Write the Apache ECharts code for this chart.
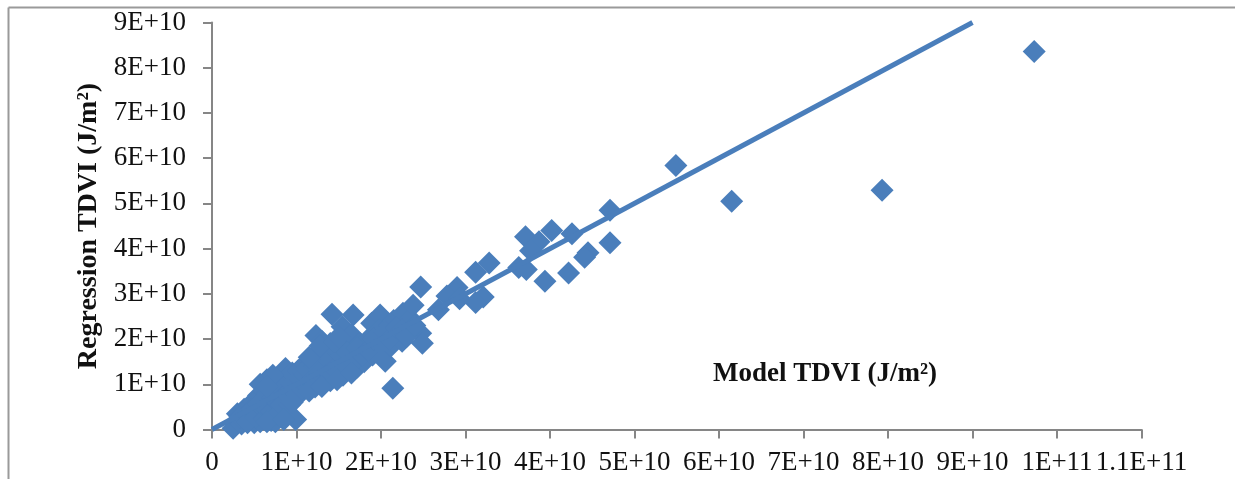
<!DOCTYPE html>
<html>
<head>
<meta charset="utf-8">
<style>
  html, body { margin: 0; padding: 0; background: #fff; }
  #main { width: 1235px; height: 479px; }
</style>
<script src="https://cdn.jsdelivr.net/npm/echarts@6/dist/echarts.min.js"></script>
</head>
<body>
<div id="main"></div>
<script>
// values, in units of 1E+10 J/m2
const modelTDVI = [
  9.73, 7.93, 6.15, 5.49, 4.71, 4.71, 4.02, 4.26, 3.71, 3.87, 3.77, 4.45, 4.41, 3.63, 3.72, 4.22, 3.94,
  3.28, 3.12, 2.90, 2.88, 2.78, 2.93, 3.21, 3.12, 2.68, 2.47,
  0.25, 0.30, 0.30, 0.35, 0.35, 0.38, 0.40, 0.42, 0.45, 0.50, 0.50, 0.50, 0.55, 0.57, 0.57, 0.57, 0.60,
  0.62, 0.65, 0.68, 0.70, 0.72, 0.75, 0.75, 0.78, 0.80, 0.82, 0.85, 0.87, 0.88, 0.90, 0.92, 0.95, 0.99,
  0.99, 1.00, 1.02, 1.05, 1.08, 1.10, 1.12, 1.15, 1.18, 1.20, 1.22, 1.23, 1.25, 1.25, 1.30, 1.30, 1.35,
  1.38, 1.40, 1.42, 1.45, 1.48, 1.50, 1.54, 1.55, 1.55, 1.60, 1.62, 1.67, 1.65, 1.70, 1.72, 1.75, 1.80,
  1.82, 1.85, 1.89, 1.90, 1.95, 1.99, 1.98, 2.00, 2.05, 2.05, 2.10, 2.12, 2.14, 2.15, 2.20, 2.25, 2.26,
  2.30, 2.32, 2.35, 2.38, 2.47, 2.49,
  0.33, 0.42, 0.47, 0.52, 0.55, 0.62, 0.65, 0.66, 0.70, 0.72, 0.78, 0.80, 0.82, 0.88, 0.92, 0.95, 1.00,
  1.05, 1.10, 1.12, 1.18, 1.22, 1.28, 1.32, 1.38, 1.42, 1.45, 1.50, 1.58, 1.60, 1.68, 1.72, 1.78, 1.85,
  1.92, 2.00, 2.05, 2.10, 2.18, 2.25, 2.30, 2.40, 1.30, 1.40, 1.15, 0.72, 0.65, 0.65, 0.85,
  1.28, 1.45, 1.50, 1.15, 1.30, 1.48, 1.65, 0.95
];
const regressionTDVI = [
  8.36, 5.29, 5.05, 5.84, 4.13, 4.85, 4.40, 4.33, 4.26, 4.15, 3.95, 3.91, 3.81, 3.58, 3.54, 3.46, 3.28,
  3.68, 3.48, 3.14, 3.03, 2.95, 2.89, 2.93, 2.81, 2.65, 3.15,
  0.03, 0.20, 0.35, 0.12, 0.30, 0.45, 0.20, 0.35, 0.55, 0.15, 0.40, 0.60, 0.75, 0.17, 0.50, 1.00, 0.30,
  0.85, 1.10, 0.60, 0.20, 0.95, 0.17, 0.50, 1.15, 0.70, 0.30, 0.95, 1.35, 0.55, 1.10, 0.80, 1.25, 0.22,
  0.69, 1.00, 1.30, 0.85, 1.15, 1.45, 0.95, 1.25, 1.50, 1.05, 0.94, 2.08, 1.70, 1.30, 1.55, 1.10, 1.80,
  1.40, 1.08, 2.55, 1.65, 1.90, 1.35, 2.27, 1.20, 1.60, 1.85, 1.40, 2.53, 2.10, 1.65, 1.38, 1.90, 1.50,
  1.75, 2.00, 2.35, 1.65, 1.85, 2.53, 2.20, 1.70, 1.51, 2.00, 2.30, 1.85, 0.91, 2.41, 2.10, 1.95, 2.57,
  2.30, 2.15, 2.45, 2.75, 2.13, 1.91,
  0.28, 0.15, 0.45, 0.28, 0.55, 0.25, 0.45, 0.80, 0.40, 0.70, 0.35, 0.95, 0.55, 0.80, 0.55, 1.00, 0.80,
  1.10, 1.20, 1.35, 1.10, 1.40, 1.25, 1.65, 1.25, 1.55, 1.35, 1.70, 1.45, 1.70, 1.50, 1.80, 1.65, 1.75,
  2.00, 1.90, 2.15, 2.00, 2.25, 2.20, 2.05, 2.30, 1.95, 1.90, 1.60, 1.20, 0.95, 0.17, 0.22,
  1.85, 1.95, 2.05, 0.85, 0.95, 1.10, 1.25, 0.60
];
const fitX = [0, 9];
const fitY = [0, 9];
const xTickLabels = ['0', '1E+10', '2E+10', '3E+10', '4E+10', '5E+10', '6E+10', '7E+10', '8E+10', '9E+10', '1E+11', '1.1E+11'];
const yTickLabels = ['0', '1E+10', '2E+10', '3E+10', '4E+10', '5E+10', '6E+10', '7E+10', '8E+10', '9E+10'];

const blue = '#4a7ebb';
const axisGrey = '#868686';
const serif = '"Liberation Serif", serif';
const unit = 1e10;

const points = modelTDVI.map((x, i) => [x * unit, regressionTDVI[i] * unit]);
const fitLine = fitX.map((x, i) => [x * unit, fitY[i] * unit]);

function axisStyle(labels, margin) {
  return {
    type: 'value',
    min: 0,
    interval: unit,
    splitLine: { show: false },
    axisLine: { show: true, onZero: false, lineStyle: { color: axisGrey, width: 2 } },
    axisTick: { show: true, length: 9, lineStyle: { color: axisGrey, width: 2 } },
    axisLabel: {
      show: true,
      margin: margin,
      color: '#111',
      fontFamily: serif,
      fontSize: 27,
      hideOverlap: false,
      showMinLabel: true,
      showMaxLabel: true,
      formatter: v => labels[Math.round(v / unit)]
    }
  };
}

const chart = echarts.init(document.getElementById('main'), null, { renderer: 'canvas' });
chart.setOption({
  animation: false,
  backgroundColor: '#fff',
  grid: { left: 212, top: 22.5, width: 929.5, height: 407, containLabel: false },
  xAxis: Object.assign(axisStyle(xTickLabels, 20), { max: 11 * unit }),
  yAxis: Object.assign(axisStyle(yTickLabels, 26), {
    max: 9 * unit,
    name: 'Regression TDVI (J/m²)',
    nameLocation: 'middle',
    nameRotate: 90,
    nameGap: 106,
    nameTextStyle: { fontFamily: serif, fontWeight: 'bold', fontSize: 28, color: '#111' }
  }),
  title: {
    text: 'Model TDVI (J/m²)',
    left: 713,
    top: 361,
    padding: 0,
    textStyle: { fontFamily: serif, fontWeight: 'bold', fontSize: 27, color: '#111' }
  },
  graphic: [
    // frame round the chart, cut off by the page on the right and bottom
    { type: 'line', shape: { x1: 8.5, y1: 7.5, x2: 1235, y2: 7.5 }, style: { stroke: '#9a9a9a', lineWidth: 2 } },
    { type: 'line', shape: { x1: 8.5, y1: 7.5, x2: 8.5, y2: 479 }, style: { stroke: '#9a9a9a', lineWidth: 2 } }
  ],
  series: [
    {
      type: 'scatter',
      data: points,
      symbol: 'diamond',
      symbolSize: 23,
      itemStyle: { color: blue, opacity: 1 },
      clip: false,
      z: 2
    },
    {
      type: 'line',
      data: fitLine,
      showSymbol: false,
      lineStyle: { color: blue, width: 5 },
      clip: true,
      z: 3
    }
  ]
});
</script>
</body>
</html>
